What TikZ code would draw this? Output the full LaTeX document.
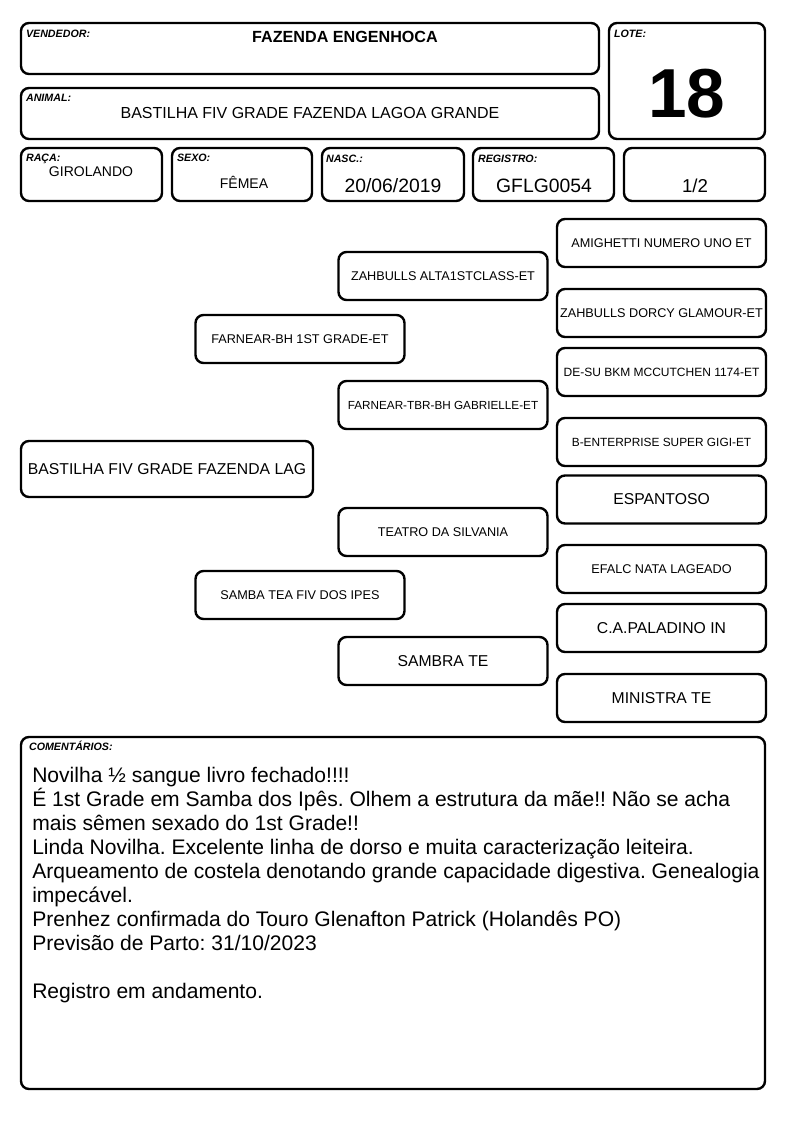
\documentclass[tikz,border=0pt]{standalone}
\usepackage{fontspec}
\setmainfont{Liberation Sans}
\begin{document}
\frenchspacing
\begin{tikzpicture}[x=0.75pt, y=-0.75pt,
    box/.style={draw, line width=1.8pt, rounded corners=6pt, inner sep=0pt},
    sz/.style 2 args={minimum width=#1*0.75pt, minimum height=#2*0.75pt},
    tag/.style={anchor=base west, inner sep=0pt, font=\fontsize{8}{9}\selectfont\bfseries\itshape},
    val/.style={anchor=base, inner sep=0pt},
    pbox/.style={box, sz={209}{48}, font=\fontsize{9.5}{11}\selectfont},
    big/.style={font=\fontsize{11.8}{13}\selectfont}]
  \useasboundingbox (0,0) rectangle (794,1123);
  % header
  \node[box, sz={578}{51}] (vend) at (310,48.5) {};
  \node[box, sz={578}{51}] (animal) at (310,113.5) {};
  \node[box, sz={156}{116}] (lote) at (687,81) {};
  \node[box, sz={141}{53}] (raca) at (91.5,174.5) {};
  \node[box, sz={140}{53}] (sexo) at (242,174.5) {};
  \node[box, sz={142}{53}] (nasc) at (393,174.5) {};
  \node[box, sz={141}{53}] (reg) at (543.5,174.5) {};
  \node[box, sz={141}{53}] (parte) at (694.5,174.5) {};
  \node[tag] (vendtag) at ([shift={(6,16)}]vend.north west) {VENDEDOR:};
  \node[tag] (animaltag) at ([shift={(6,15)}]animal.north west) {ANIMAL:};
  \node[tag] (lotetag) at ([shift={(6,16)}]lote.north west) {LOTE:};
  \node[tag] (racatag) at ([shift={(6,15)}]raca.north west) {RAÇA:};
  \node[tag] (sexotag) at ([shift={(6,15)}]sexo.north west) {SEXO:};
  \node[tag] (nasctag) at ([shift={(5,16)}]nasc.north west) {NASC.:};
  \node[tag] (regtag) at ([shift={(6,16)}]reg.north west) {REGISTRO:};
  \node[val, font=\fontsize{12.1}{14}\selectfont\bfseries] (vendval) at (345,43) {FAZENDA ENGENHOCA};
  \node[val, font=\fontsize{12}{14}\selectfont] (animalval) at (310,119) {BASTILHA FIV GRADE FAZENDA LAGOA GRANDE};
  \node[val, font=\fontsize{52}{60}\selectfont\bfseries] (loteval) at (687,118) {18};
  \node[val, font=\fontsize{10.5}{12}\selectfont] (racaval) at (91,177) {GIROLANDO};
  \node[val, font=\fontsize{10.5}{12}\selectfont] (sexoval) at (244,189) {FÊMEA};
  \node[val, font=\fontsize{14.5}{16}\selectfont] (nascval) at (393,193) {20/06/2019};
  \node[val, font=\fontsize{14.5}{16}\selectfont] (regval) at (544,193) {GFLG0054};
  \node[val, font=\fontsize{14}{16}\selectfont] (parteval) at (695,193) {1/2};
  % pedigree
  \node[box, sz={292}{56}, big] (animalped) at (167,469) {BASTILHA FIV GRADE FAZENDA LAG};
  \node[pbox] (pai) at (300,339) {FARNEAR-BH 1ST GRADE-ET};
  \node[pbox] (mae) at (300,595) {SAMBA TEA FIV DOS IPES};
  \node[pbox] (avo1) at (443,276) {ZAHBULLS ALTA1STCLASS-ET};
  \node[pbox, font=\fontsize{8.8}{10}\selectfont] (ava1) at (443,405) {FARNEAR-TBR-BH GABRIELLE-ET};
  \node[pbox] (avo2) at (443,532) {TEATRO DA SILVANIA};
  \node[pbox, big] (ava2) at (443,661) {SAMBRA TE};
  \node[pbox] (bis1) at (661.5,243) {AMIGHETTI NUMERO UNO ET};
  \node[pbox] (bis2) at (661.5,313) {ZAHBULLS DORCY GLAMOUR-ET};
  \node[pbox, font=\fontsize{9}{10}\selectfont] (bis3) at (661.5,372) {DE-SU BKM MCCUTCHEN 1174-ET};
  \node[pbox, font=\fontsize{8.9}{10}\selectfont] (bis4) at (661.5,442) {B-ENTERPRISE SUPER GIGI-ET};
  \node[pbox, big] (bis5) at (661.5,499.5) {ESPANTOSO};
  \node[pbox] (bis6) at (661.5,569) {EFALC NATA LAGEADO};
  \node[pbox, big] (bis7) at (661.5,628) {C.A.PALADINO IN};
  \node[pbox, big] (bis8) at (661.5,698) {MINISTRA TE};
  % comentarios
  \node[box, sz={744}{352}] (coment) at (393,913) {};
  \node[tag] (comenttag) at ([shift={(9,15)}]coment.north west) {COMENTÁRIOS:};
  \node[anchor=north west, inner sep=0pt, align=left, font=\fontsize{15.8}{18}\selectfont] (comenttxt) at (32,767)
    {Novilha ½ sangue livro fechado!!!!\\
     É 1st Grade em Samba dos Ipês. Olhem a estrutura da mãe!! Não se acha\\
     mais sêmen sexado do 1st Grade!!\\
     Linda Novilha. Excelente linha de dorso e muita caracterização leiteira.\\
     Arqueamento de costela denotando grande capacidade digestiva. Genealogia\\
     impecável.\\
     Prenhez confirmada do Touro Glenafton Patrick (Holandês PO)\\
     Previsão de Parto: 31/10/2023\\[18pt]
     Registro em andamento.};
\end{tikzpicture}
\end{document}
